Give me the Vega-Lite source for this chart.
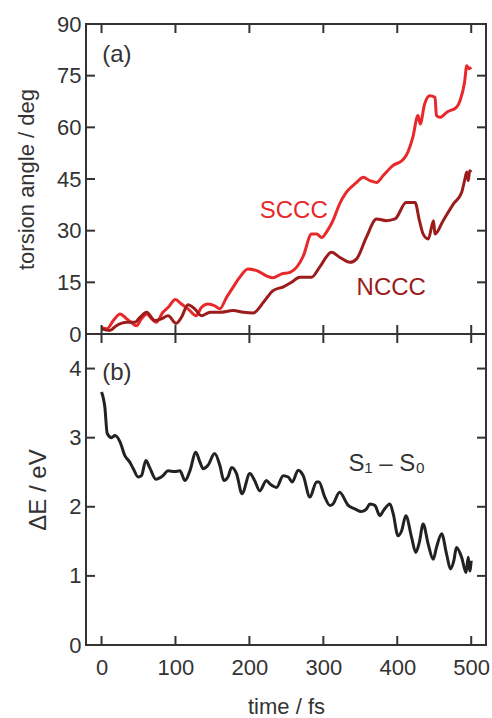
{
  "$schema": "https://vega.github.io/schema/vega-lite/v6.json",
  "padding": {"left": 14, "top": 12, "right": 2, "bottom": 0},
  "autosize": {"type": "pad"},
  "spacing": 0,
  "bounds": "flush",
  "datasets": {
    "xticks": [{"t": 0}, {"t": 100}, {"t": 200}, {"t": 300}, {"t": 400}, {"t": 500}],
    "aticks": [{"v": 15}, {"v": 30}, {"v": 45}, {"v": 60}, {"v": 75}],
    "eticks": [{"v": 1}, {"v": 2}, {"v": 3}, {"v": 4}]
  },
  "config": {
    "font": "Liberation Sans",
    "view": {"stroke": "#333333", "strokeWidth": 2},
    "tick": {"thickness": 2, "size": 9, "color": "#333333", "opacity": 1},
    "axis": {
      "domain": false,
      "grid": false,
      "ticks": false,
      "labelFont": "Liberation Sans",
      "labelFontSize": 22,
      "labelColor": "#333333",
      "titleFont": "Liberation Sans",
      "titleFontSize": 22,
      "titleFontWeight": "normal",
      "titleColor": "#333333"
    },
    "axisLeft": {"labelPadding": 5, "titlePadding": 18},
    "axisBottom": {"labelPadding": 12, "titlePadding": 18}
  },
  "vconcat": [
    {
      "width": 400,
      "height": 310,
      "layer": [
        {
          "data": {"values": [
            {"t":0,"angle":1.9,"series":"SCCC"},{"t":7,"angle":1.5,"series":"SCCC"},{"t":16,"angle":3.9,"series":"SCCC"},{"t":25,"angle":5.8,"series":"SCCC"},{"t":34,"angle":4.4,"series":"SCCC"},{"t":40,"angle":3.4,"series":"SCCC"},{"t":47,"angle":2.4,"series":"SCCC"},{"t":54,"angle":4.4,"series":"SCCC"},{"t":61,"angle":5.8,"series":"SCCC"},{"t":68,"angle":4.4,"series":"SCCC"},{"t":74,"angle":3.4,"series":"SCCC"},{"t":83,"angle":6.3,"series":"SCCC"},{"t":90,"angle":7.7,"series":"SCCC"},{"t":100,"angle":10.0,"series":"SCCC"},{"t":108,"angle":8.7,"series":"SCCC"},{"t":117,"angle":7.3,"series":"SCCC"},{"t":128,"angle":5.3,"series":"SCCC"},{"t":135,"angle":7.7,"series":"SCCC"},{"t":144,"angle":8.7,"series":"SCCC"},{"t":153,"angle":8.2,"series":"SCCC"},{"t":160,"angle":7.3,"series":"SCCC"},{"t":169,"angle":10.6,"series":"SCCC"},{"t":178,"angle":13.6,"series":"SCCC"},{"t":187,"angle":16.5,"series":"SCCC"},{"t":198,"angle":18.9,"series":"SCCC"},{"t":210,"angle":18.4,"series":"SCCC"},{"t":223,"angle":16.9,"series":"SCCC"},{"t":232,"angle":16.3,"series":"SCCC"},{"t":243,"angle":17.4,"series":"SCCC"},{"t":255,"angle":17.9,"series":"SCCC"},{"t":264,"angle":19.4,"series":"SCCC"},{"t":273,"angle":22.7,"series":"SCCC"},{"t":284,"angle":29.0,"series":"SCCC"},{"t":291,"angle":29.0,"series":"SCCC"},{"t":298,"angle":28.0,"series":"SCCC"},{"t":304,"angle":29.5,"series":"SCCC"},{"t":313,"angle":32.9,"series":"SCCC"},{"t":322,"angle":37.8,"series":"SCCC"},{"t":331,"angle":41.1,"series":"SCCC"},{"t":345,"angle":44.0,"series":"SCCC"},{"t":354,"angle":45.5,"series":"SCCC"},{"t":363,"angle":44.5,"series":"SCCC"},{"t":372,"angle":44.0,"series":"SCCC"},{"t":381,"angle":46.0,"series":"SCCC"},{"t":394,"angle":48.9,"series":"SCCC"},{"t":406,"angle":50.3,"series":"SCCC"},{"t":412,"angle":51.8,"series":"SCCC"},{"t":421,"angle":57.1,"series":"SCCC"},{"t":428,"angle":63.4,"series":"SCCC"},{"t":431,"angle":61.0,"series":"SCCC"},{"t":437,"angle":66.8,"series":"SCCC"},{"t":444,"angle":69.2,"series":"SCCC"},{"t":451,"angle":68.7,"series":"SCCC"},{"t":453,"angle":63.4,"series":"SCCC"},{"t":458,"angle":62.9,"series":"SCCC"},{"t":467,"angle":64.4,"series":"SCCC"},{"t":480,"angle":65.8,"series":"SCCC"},{"t":485,"angle":67.8,"series":"SCCC"},{"t":491,"angle":73.1,"series":"SCCC"},{"t":494,"angle":77.9,"series":"SCCC"},{"t":497,"angle":77.0,"series":"SCCC"},{"t":500,"angle":77.4,"series":"SCCC"},
            {"t":0,"angle":1.5,"series":"NCCC"},{"t":11,"angle":1.0,"series":"NCCC"},{"t":20,"angle":2.4,"series":"NCCC"},{"t":34,"angle":3.4,"series":"NCCC"},{"t":45,"angle":3.4,"series":"NCCC"},{"t":52,"angle":4.8,"series":"NCCC"},{"t":61,"angle":6.3,"series":"NCCC"},{"t":72,"angle":3.9,"series":"NCCC"},{"t":81,"angle":4.4,"series":"NCCC"},{"t":90,"angle":5.3,"series":"NCCC"},{"t":101,"angle":3.1,"series":"NCCC"},{"t":108,"angle":4.8,"series":"NCCC"},{"t":117,"angle":8.5,"series":"NCCC"},{"t":126,"angle":7.3,"series":"NCCC"},{"t":135,"angle":5.3,"series":"NCCC"},{"t":147,"angle":6.3,"series":"NCCC"},{"t":160,"angle":6.3,"series":"NCCC"},{"t":178,"angle":6.8,"series":"NCCC"},{"t":192,"angle":6.3,"series":"NCCC"},{"t":205,"angle":6.1,"series":"NCCC"},{"t":219,"angle":9.2,"series":"NCCC"},{"t":232,"angle":12.6,"series":"NCCC"},{"t":246,"angle":13.7,"series":"NCCC"},{"t":257,"angle":15.0,"series":"NCCC"},{"t":268,"angle":16.5,"series":"NCCC"},{"t":284,"angle":16.5,"series":"NCCC"},{"t":295,"angle":19.4,"series":"NCCC"},{"t":311,"angle":23.7,"series":"NCCC"},{"t":322,"angle":22.3,"series":"NCCC"},{"t":336,"angle":20.8,"series":"NCCC"},{"t":345,"angle":21.8,"series":"NCCC"},{"t":358,"angle":28.0,"series":"NCCC"},{"t":372,"angle":33.4,"series":"NCCC"},{"t":385,"angle":32.9,"series":"NCCC"},{"t":397,"angle":33.4,"series":"NCCC"},{"t":412,"angle":38.2,"series":"NCCC"},{"t":424,"angle":38.2,"series":"NCCC"},{"t":430,"angle":32.9,"series":"NCCC"},{"t":435,"angle":29.0,"series":"NCCC"},{"t":442,"angle":27.6,"series":"NCCC"},{"t":449,"angle":32.9,"series":"NCCC"},{"t":451,"angle":29.0,"series":"NCCC"},{"t":462,"angle":32.9,"series":"NCCC"},{"t":476,"angle":37.8,"series":"NCCC"},{"t":487,"angle":41.1,"series":"NCCC"},{"t":491,"angle":44.5,"series":"NCCC"},{"t":494,"angle":47.0,"series":"NCCC"},{"t":496,"angle":44.5,"series":"NCCC"},{"t":498,"angle":47.4,"series":"NCCC"},{"t":500,"angle":47.0,"series":"NCCC"}
          ]},
          "mark": {"type": "line", "strokeWidth": 3, "interpolate": "monotone"},
          "encoding": {
            "x": {"field": "t", "type": "quantitative", "scale": {"domain": [-21, 520], "nice": false},
                  "axis": {"orient": "bottom", "labels": false, "title": null, "values": [0,100,200,300,400,500]}},
            "y": {"field": "angle", "type": "quantitative", "scale": {"domain": [0, 90], "nice": false},
                  "axis": {"orient": "left", "values": [0,15,30,45,60,75,90], "title": "torsion angle / deg"}},
            "color": {"field": "series", "type": "nominal",
                      "scale": {"domain": ["SCCC", "NCCC", "(a)"], "range": ["#e8282a", "#9c1b1b", "#333333"]},
                      "legend": null}
          }
        },
        {
          "data": {"values": [
            {"x": 1, "y": 81, "label": "(a)", "series": "(a)"},
            {"x": 214, "y": 35.7, "label": "SCCC", "series": "SCCC"},
            {"x": 345, "y": 13.4, "label": "NCCC", "series": "NCCC"}
          ]},
          "mark": {"type": "text", "align": "left", "baseline": "middle", "fontSize": 24, "font": "Liberation Sans"},
          "encoding": {
            "x": {"field": "x", "type": "quantitative", "axis": null},
            "y": {"field": "y", "type": "quantitative", "axis": null},
            "text": {"field": "label"},
            "color": {"field": "series", "type": "nominal", "legend": null}
          }
        },
        {
          "data": {"name": "xticks"},
          "mark": {"type": "tick", "orient": "vertical", "yOffset": 4.5},
          "encoding": {
            "x": {"field": "t", "type": "quantitative", "axis": null},
            "y": {"datum": 90, "type": "quantitative", "axis": null}
          }
        },
        {
          "data": {"name": "xticks"},
          "mark": {"type": "tick", "orient": "vertical", "yOffset": -4.5},
          "encoding": {
            "x": {"field": "t", "type": "quantitative", "axis": null},
            "y": {"datum": 0, "type": "quantitative", "axis": null}
          }
        },
        {
          "data": {"name": "aticks"},
          "mark": {"type": "tick", "orient": "horizontal", "xOffset": 4.5},
          "encoding": {
            "x": {"datum": -21, "type": "quantitative", "axis": null},
            "y": {"field": "v", "type": "quantitative", "axis": null}
          }
        },
        {
          "data": {"name": "aticks"},
          "mark": {"type": "tick", "orient": "horizontal", "xOffset": -4.5},
          "encoding": {
            "x": {"datum": 520, "type": "quantitative", "axis": null},
            "y": {"field": "v", "type": "quantitative", "axis": null}
          }
        }
      ],
      "resolve": {"axis": {"x": "independent", "y": "independent"}}
    },
    {
      "width": 400,
      "height": 311,
      "layer": [
        {
          "data": {"values": [
            {"t":0,"dE":3.66},{"t":4.5,"dE":3.44},{"t":7.7,"dE":3.06},{"t":13.5,"dE":3.0},{"t":18,"dE":3.03},{"t":25,"dE":2.94},{"t":31.6,"dE":2.74},{"t":38,"dE":2.65},{"t":43,"dE":2.55},{"t":49.6,"dE":2.43},{"t":54,"dE":2.45},{"t":60,"dE":2.67},{"t":65,"dE":2.57},{"t":73.5,"dE":2.40},{"t":83,"dE":2.45},{"t":90,"dE":2.52},{"t":99,"dE":2.51},{"t":106,"dE":2.52},{"t":113,"dE":2.38},{"t":119.5,"dE":2.52},{"t":127.6,"dE":2.79},{"t":133,"dE":2.65},{"t":137.5,"dE":2.55},{"t":144,"dE":2.6},{"t":153,"dE":2.77},{"t":160,"dE":2.6},{"t":165.5,"dE":2.38},{"t":171,"dE":2.43},{"t":176,"dE":2.57},{"t":182.6,"dE":2.48},{"t":190,"dE":2.19},{"t":200.6,"dE":2.48},{"t":207,"dE":2.38},{"t":214,"dE":2.23},{"t":223,"dE":2.38},{"t":227.7,"dE":2.33},{"t":236.7,"dE":2.28},{"t":245.7,"dE":2.45},{"t":252.5,"dE":2.43},{"t":258,"dE":2.36},{"t":266,"dE":2.53},{"t":272.8,"dE":2.45},{"t":281.8,"dE":2.14},{"t":290.8,"dE":2.36},{"t":294,"dE":2.36},{"t":302,"dE":2.14},{"t":308.8,"dE":2.02},{"t":313,"dE":2.04},{"t":322,"dE":2.21},{"t":333.6,"dE":2.02},{"t":342.6,"dE":1.97},{"t":351.7,"dE":1.93},{"t":358.4,"dE":1.97},{"t":363,"dE":2.04},{"t":369.7,"dE":2.02},{"t":376.5,"dE":1.87},{"t":381,"dE":1.94},{"t":390,"dE":2.04},{"t":394.5,"dE":1.90},{"t":401,"dE":1.58},{"t":405.8,"dE":1.65},{"t":411.6,"dE":1.87},{"t":419.3,"dE":1.56},{"t":425,"dE":1.34},{"t":429.7,"dE":1.48},{"t":435,"dE":1.75},{"t":441.8,"dE":1.46},{"t":448.6,"dE":1.24},{"t":453,"dE":1.41},{"t":460,"dE":1.61},{"t":466.6,"dE":1.32},{"t":472,"dE":1.10},{"t":476.5,"dE":1.22},{"t":480,"dE":1.41},{"t":487,"dE":1.27},{"t":493,"dE":1.05},{"t":496,"dE":1.27},{"t":498,"dE":1.07},{"t":500,"dE":1.22}
          ]},
          "mark": {"type": "line", "strokeWidth": 3, "color": "#222222", "interpolate": "monotone"},
          "encoding": {
            "x": {"field": "t", "type": "quantitative", "scale": {"domain": [-21, 520], "nice": false},
                  "axis": {"orient": "bottom", "values": [0,100,200,300,400,500], "title": "time / fs"}},
            "y": {"field": "dE", "type": "quantitative", "scale": {"domain": [0, 4.5], "nice": false},
                  "axis": {"orient": "left", "values": [0,1,2,3,4], "title": "ΔE / eV", "titleFontSize": 24}}
          }
        },
        {
          "data": {"values": [
            {"x": 1, "y": 3.94, "label": "(b)"},
            {"x": 334, "y": 2.62, "label": "S₁ – S₀"}
          ]},
          "mark": {"type": "text", "align": "left", "baseline": "middle", "fontSize": 24, "font": "Liberation Sans", "color": "#333333"},
          "encoding": {
            "x": {"field": "x", "type": "quantitative", "axis": null},
            "y": {"field": "y", "type": "quantitative", "axis": null},
            "text": {"field": "label"}
          }
        },
        {
          "data": {"name": "xticks"},
          "mark": {"type": "tick", "orient": "vertical", "yOffset": 4.5},
          "encoding": {
            "x": {"field": "t", "type": "quantitative", "axis": null},
            "y": {"datum": 4.5, "type": "quantitative", "axis": null}
          }
        },
        {
          "data": {"name": "xticks"},
          "mark": {"type": "tick", "orient": "vertical", "yOffset": -4.5},
          "encoding": {
            "x": {"field": "t", "type": "quantitative", "axis": null},
            "y": {"datum": 0, "type": "quantitative", "axis": null}
          }
        },
        {
          "data": {"name": "eticks"},
          "mark": {"type": "tick", "orient": "horizontal", "xOffset": 4.5},
          "encoding": {
            "x": {"datum": -21, "type": "quantitative", "axis": null},
            "y": {"field": "v", "type": "quantitative", "axis": null}
          }
        },
        {
          "data": {"name": "eticks"},
          "mark": {"type": "tick", "orient": "horizontal", "xOffset": -4.5},
          "encoding": {
            "x": {"datum": 520, "type": "quantitative", "axis": null},
            "y": {"field": "v", "type": "quantitative", "axis": null}
          }
        }
      ],
      "resolve": {"axis": {"x": "independent", "y": "independent"}}
    }
  ]
}
